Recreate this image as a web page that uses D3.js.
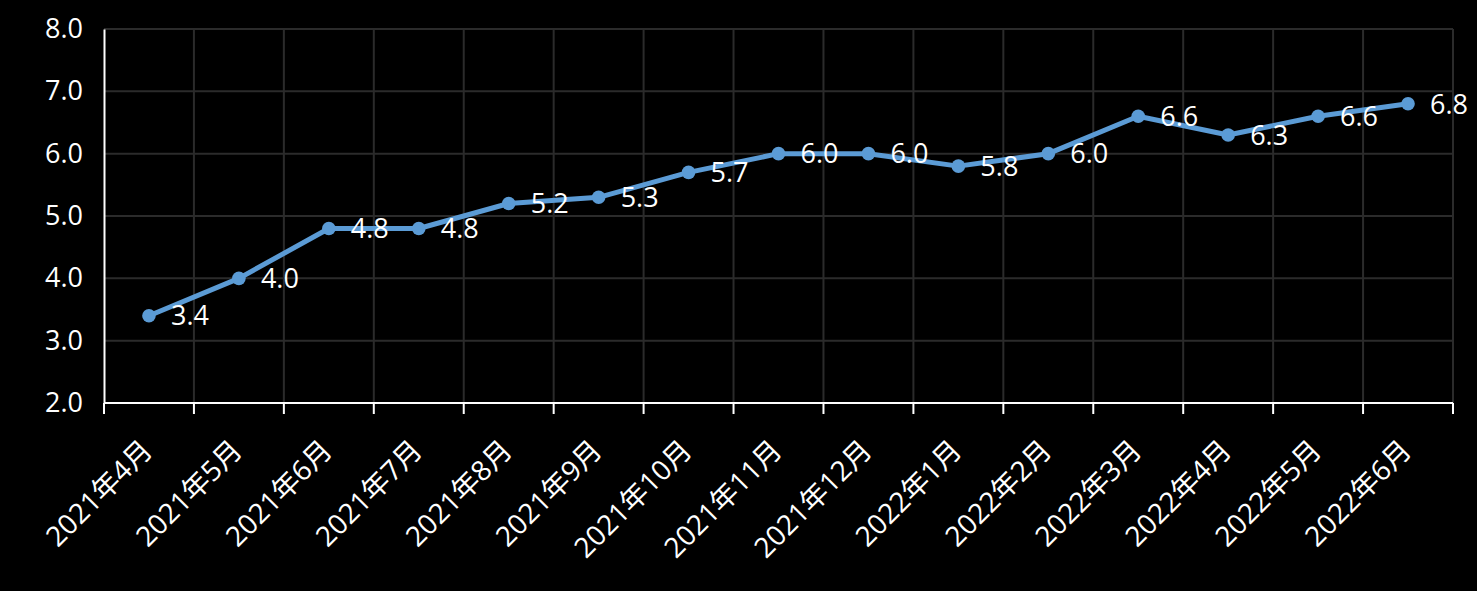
<!DOCTYPE html>
<html><head><meta charset="utf-8">
<script src="https://cdn.jsdelivr.net/npm/d3@7"></script>
<style>
html,body{margin:0;padding:0;background:#000;}
text{font-family:"Open Sans","Noto Sans CJK SC",sans-serif;fill:#fff;}
</style></head>
<body><svg id="c" width="1477" height="591"></svg>
<script>
const categories = ["2021年4月","2021年5月","2021年6月","2021年7月","2021年8月","2021年9月","2021年10月","2021年11月","2021年12月","2022年1月","2022年2月","2022年3月","2022年4月","2022年5月","2022年6月"];
const values = [3.4,4.0,4.8,4.8,5.2,5.3,5.7,6.0,6.0,5.8,6.0,6.6,6.3,6.6,6.8];
const yTicks = [2,3,4,5,6,7,8];

(function(){
const svg = d3.select("#c");
svg.append("rect").attr("width",1477).attr("height",591).attr("fill","#000");
const mL=104, mR=1453, mT=29, mB=403;
const x = d3.scaleBand().domain(categories).range([mL,mR]);
const y = d3.scaleLinear().domain([2,8]).range([mB,mT]);

// grid
const g = svg.append("g");
g.selectAll(".hg").data(yTicks.slice(1)).join("line")
  .attr("x1",mL).attr("x2",mR).attr("y1",d=>y(d)).attr("y2",d=>y(d))
  .attr("stroke","#2b2b2b").attr("stroke-width",2);
const bounds = categories.map(c=>x(c)+x.bandwidth());
g.selectAll(".vg").data(bounds).join("line")
  .attr("x1",d=>d).attr("x2",d=>d).attr("y1",mT).attr("y2",mB)
  .attr("stroke","#2b2b2b").attr("stroke-width",2);

// y axis
const ya = svg.append("g").attr("transform",`translate(${mL},0)`)
  .call(d3.axisLeft(y).tickValues(yTicks).tickFormat(d3.format(".1f")).tickSize(0).tickPadding(21));
ya.select(".domain").attr("stroke","#fff").attr("stroke-width",2);
ya.selectAll("text").attr("font-size",27).attr("fill","#fff").style("font-family",'"Open Sans","Noto Sans CJK SC",sans-serif');

// x axis
const xa = svg.append("g").attr("transform",`translate(0,${mB})`);
xa.append("line").attr("x1",mL).attr("x2",mR).attr("y1",0).attr("y2",0).attr("stroke","#fff").attr("stroke-width",2);
xa.selectAll(".tk").data([mL].concat(bounds)).join("line")
  .attr("x1",d=>d).attr("x2",d=>d).attr("y1",0).attr("y2",11).attr("stroke","#fff").attr("stroke-width",2);
xa.selectAll(".lb").data(categories).join("text")
  .attr("transform",d=>`translate(${x(d)+x.bandwidth()/2+5},${49}) rotate(-45)`)
  .attr("text-anchor","end").attr("font-size",28).text(d=>d);

// line
const cx = d=>x(d)+x.bandwidth()/2;
const line = d3.line().x((d,i)=>cx(categories[i])).y(d=>y(d));
svg.append("path").datum(values).attr("d",line).attr("fill","none")
  .attr("stroke","#5b9bd5").attr("stroke-width",5).attr("stroke-linejoin","round");
svg.selectAll(".pt").data(values).join("circle")
  .attr("cx",(d,i)=>cx(categories[i])).attr("cy",d=>y(d)).attr("r",6.8).attr("fill","#5b9bd5");
svg.selectAll(".vl").data(values).join("text")
  .attr("x",(d,i)=>cx(categories[i])+22).attr("y",d=>y(d)).attr("dy","0.36em")
  .attr("font-size",27).text(d=>d.toFixed(1));
})();
</script></body></html>
